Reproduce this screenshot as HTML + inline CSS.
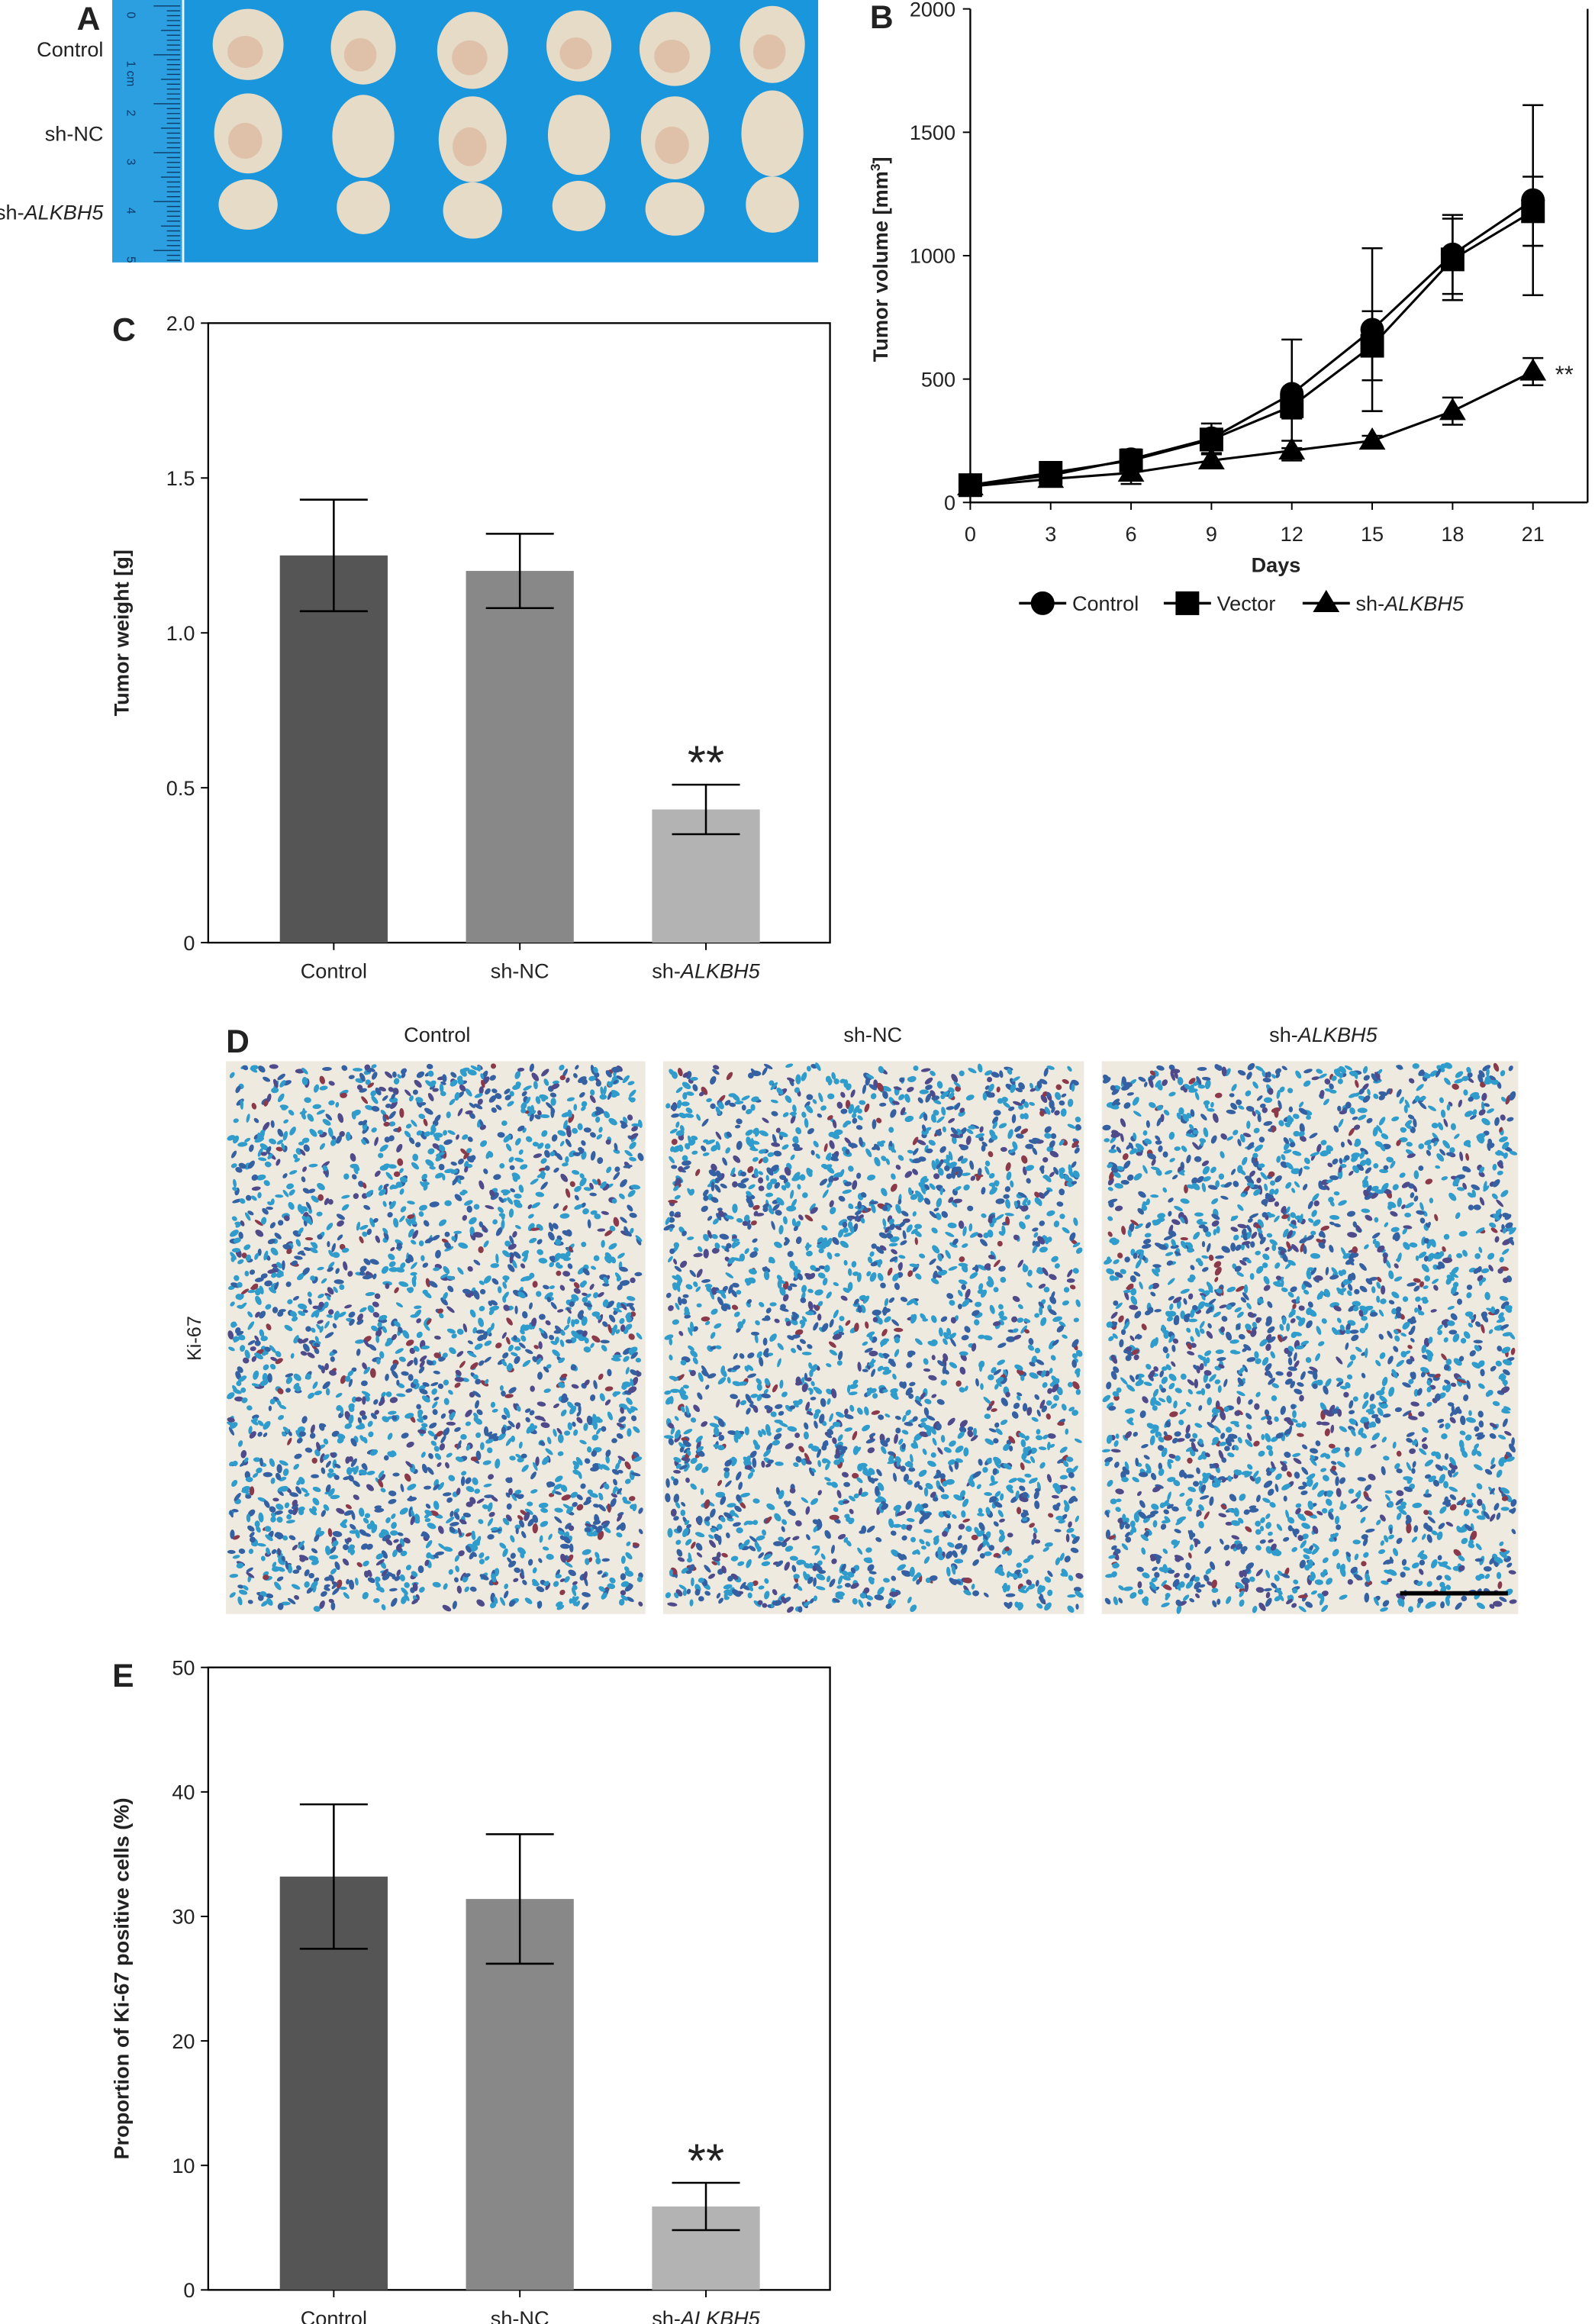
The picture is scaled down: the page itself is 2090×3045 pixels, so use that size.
<!DOCTYPE html>
<html><head><meta charset="utf-8">
<style>
html,body{margin:0;padding:0;background:#fff;}
svg{display:block;}
text{font-family:"Liberation Sans","DejaVu Sans",sans-serif;fill:#222;}
</style></head>
<body>
<svg id="fig" width="2090" height="3045" viewBox="0 0 1080 1568" preserveAspectRatio="none" xmlns="http://www.w3.org/2000/svg">
<g id="panelA">
  <text x="52" y="20" font-size="22" font-weight="bold">A</text>
  <text x="70" y="38" font-size="14" text-anchor="end">Control</text>
  <text x="70" y="95" font-size="14" text-anchor="end">sh-NC</text>
  <text x="70" y="148" font-size="14" text-anchor="end">sh-<tspan font-style="italic">ALKBH5</tspan></text>
  <rect x="76" y="0" width="478" height="177" fill="#1a96dc"/>
  <rect x="76" y="0" width="48" height="177" fill="#2b9fe0"/>
  <line x1="124" y1="0" x2="124" y2="177" stroke="#eaf6ff" stroke-width="1.5"/>
  <g id="ruler-ticks"></g>
  <g id="tumors"></g>
</g>

<g id="panelB"></g>
<g id="panelC"></g>

<g id="panelD">
  <text x="153" y="710" font-size="22" font-weight="bold">D</text>
  <text x="296" y="703" font-size="14" text-anchor="middle">Control</text>
  <text x="591" y="703" font-size="14" text-anchor="middle">sh-NC</text>
  <text x="896" y="703" font-size="14" text-anchor="middle">sh-<tspan font-style="italic">ALKBH5</tspan></text>
  <text x="0" y="0" font-size="13" text-anchor="middle" transform="translate(136,903) rotate(-90)">Ki-67</text>
  <g id="tissue"></g>
  <line x1="948" y1="1075" x2="1021" y2="1075" stroke="#000" stroke-width="3"/>
</g>

<g id="panelE"></g>
</svg>
<script>
const NS="http://www.w3.org/2000/svg";
function mk(parent,tag,attrs,txt){const e=document.createElementNS(NS,tag);for(const k in attrs)e.setAttribute(k,attrs[k]);if(txt!==undefined)e.textContent=txt;parent.appendChild(e);return e;}

// ---------- Panel B data ----------
const bDays=[0,3,6,9,12,15,18,21];
const bControl=[70,110,175,260,440,700,1005,1225];
const bControlErr=[10,20,40,60,220,330,160,385];
const bVector=[70,120,170,255,390,635,985,1180];
const bVectorErr=[8,15,30,40,50,140,165,140];
const bSh=[65,95,120,170,210,250,370,530];
const bShErr=[8,15,45,25,40,20,55,55];
const bYTicks=[0,500,1000,1500,2000];
const bXTicks=[0,3,6,9,12,15,18,21];

// ---------- Panel C data ----------
const cCats=["Control","sh-NC","sh-ALKBH5"];
const cVals=[1.25,1.2,0.43];
const cErr=[0.18,0.12,0.08];
const cTicks=[0,0.5,1.0,1.5,2.0];
const cTickLabels=["0","0.5","1.0","1.5","2.0"];

// ---------- Panel E data ----------
const eCats=["Control","sh-NC","sh-ALKBH5"];
const eVals=[33.2,31.4,6.7];
const eErr=[5.8,5.2,1.9];
const eTicks=[0,10,20,30,40,50];

const barColors=["#555555","#888888","#b3b3b3"];

// ---------- Panel A photo decorations ----------
(function(){
  const g=document.getElementById('ruler-ticks');
  for(let i=0;i<=52;i++){const y=4+i*3.3;const l=(i%10==0)?18:(i%5==0?13:9);
    mk(g,'line',{x1:122-l,y1:y,x2:122,y2:y,stroke:'#0b3a66','stroke-width':0.7});}
  ['0','1 cm','2','3','4','5'].forEach((t,i)=>{const tt=mk(g,'text',{x:0,y:0,'font-size':8,fill:'#0b3a66',transform:`translate(86,${8+i*33}) rotate(90)`},t);tt.style.fill='#0b3a66';});
  const tg=document.getElementById('tumors');
  const rows=[[32,24,25],[92,23,28],[140,20,18]];
  const xs=[168,246,320,392,457,523];
  rows.forEach((r,ri)=>xs.forEach((x,ci)=>{
    const rx=r[1]-(ci%2)*2, ry=r[2]+(ci%3)-1;
    const cy=r[0]+((ci*7)%5)-2;
    const el=mk(tg,'ellipse',{cx:x,cy:cy,rx:rx,ry:ry,fill:'#e6dbc6'});
    
    
    if(ri<2&&(ci%2==0||ri==0)) mk(tg,'ellipse',{cx:x-2,cy:cy+5,rx:rx*0.5,ry:ry*0.45,fill:'#d49a80',opacity:0.4});
  }));
})();

// ---------- Panel B ----------
(function(){
  const g=document.getElementById('panelB');
  const X0=657,X1=1038,Y0=339,Y1=6;
  const xs=d=>X0+(d/21)*(X1-X0), ys=v=>Y0-(v/2000)*(Y0-Y1);
  mk(g,'text',{x:589,y:19,'font-size':22,'font-weight':'bold',},'B');
  mk(g,'line',{x1:X0,y1:Y1,x2:X0,y2:Y0,stroke:'#000','stroke-width':1.2});
  mk(g,'line',{x1:X0,y1:Y0,x2:1075,y2:Y0,stroke:'#000','stroke-width':1.2});
  mk(g,'line',{x1:1075,y1:Y1,x2:1075,y2:Y0,stroke:'#000','stroke-width':1.2});
  bYTicks.forEach(t=>{mk(g,'line',{x1:X0-5,y1:ys(t),x2:X0,y2:ys(t),stroke:'#000'});
    const e=mk(g,'text',{x:X0-10,y:ys(t)+5,'font-size':14,'text-anchor':'end'},String(t));
    });
  bXTicks.forEach(t=>{mk(g,'line',{x1:xs(t),y1:Y0,x2:xs(t),y2:Y0+5,stroke:'#000'});
    const e=mk(g,'text',{x:xs(t),y:Y0+26,'font-size':14,'text-anchor':'middle'},String(t));
    });
  mk(g,'text',{x:864,y:386,'font-size':14,'font-weight':'bold','text-anchor':'middle',},'Days');
  const yt=mk(g,'text',{x:0,y:0,'font-size':14,'font-weight':'bold','text-anchor':'middle',transform:'translate(601,175) rotate(-90)',},'Tumor volume [mm');
  mk(yt,'tspan',{'baseline-shift':'super','font-size':9},'3');
  yt.appendChild(document.createTextNode(']'));
  function series(vals,errs,marker,name){
    const sg=mk(g,'g',{});
    
    mk(sg,'polyline',{points:vals.map((v,i)=>xs(bDays[i])+','+ys(v)).join(' '),fill:'none',stroke:'#000','stroke-width':1.6});
    vals.forEach((v,i)=>{const x=xs(bDays[i]);
      mk(sg,'line',{x1:x,y1:ys(v-errs[i]),x2:x,y2:ys(v+errs[i]),stroke:'#000','stroke-width':1.3});
      [v-errs[i],v+errs[i]].forEach(w=>mk(sg,'line',{x1:x-7,y1:ys(w),x2:x+7,y2:ys(w),stroke:'#000','stroke-width':1.3}));
      drawMarker(sg,marker,x,ys(v));});
  }
  function drawMarker(p,m,x,y){
    if(m=='c')mk(p,'circle',{cx:x,cy:y,r:8,fill:'#000'});
    else if(m=='s')mk(p,'rect',{x:x-8,y:y-8,width:16,height:16,fill:'#000'});
    else mk(p,'polygon',{points:`${x},${y-9} ${x-9},${y+6} ${x+9},${y+6}`,fill:'#000'});
  }
  series(bControl,bControlErr,'c','series-control');
  series(bVector,bVectorErr,'s','series-vector');
  series(bSh,bShErr,'t','series-sh-alkbh5');
  mk(g,'text',{x:1053,y:258,'font-size':16,},'**');
  const lg=mk(g,'g',{});
  [[690,'c','Control'],[788,'s','Vector'],[882,'t','sh-']].forEach((it,i)=>{
    const eg=mk(lg,'g',{});
    
    mk(eg,'line',{x1:it[0],y1:407,x2:it[0]+32,y2:407,stroke:'#000','stroke-width':1.8});
    drawMarker(eg,it[1],it[0]+16,407);
    const t=mk(eg,'text',{x:it[0]+36,y:412,'font-size':14},it[2]);
    if(i==2)mk(t,'tspan',{'font-style':'italic'},'ALKBH5');
  });
})();

// ---------- Bar charts ----------
function barChart(gid,label,labelY,X0,X1,Y0,Y1,ymax,ticks,tickLabels,cats,vals,errs,title,titleY){
  const g=document.getElementById(gid);
  const ys=v=>Y0-(v/ymax)*(Y0-Y1);
  mk(g,'text',{x:76,y:labelY,'font-size':22,'font-weight':'bold',},label);
  mk(g,'rect',{x:X0,y:Y1,width:X1-X0,height:Y0-Y1,fill:'none',stroke:'#000','stroke-width':1.2,});
  ticks.forEach((t,i)=>{mk(g,'line',{x1:X0-5,y1:ys(t),x2:X0,y2:ys(t),stroke:'#000'});
    const e=mk(g,'text',{x:X0-9,y:ys(t)+5,'font-size':14,'text-anchor':'end'},tickLabels[i]);
    });
  const bw=73;
  cats.forEach((c,i)=>{
    const cx=X0+85+i*126;
    const b=mk(g,'rect',{x:cx-bw/2,y:ys(vals[i]),width:bw,height:Y0-ys(vals[i]),fill:barColors[i]});
    
    const lo=ys(vals[i]-errs[i]),hi=ys(vals[i]+errs[i]);
    mk(g,'line',{x1:cx,y1:lo,x2:cx,y2:hi,stroke:'#000','stroke-width':1.3});
    mk(g,'line',{x1:cx-23,y1:lo,x2:cx+23,y2:lo,stroke:'#000','stroke-width':1.3});
    mk(g,'line',{x1:cx-23,y1:hi,x2:cx+23,y2:hi,stroke:'#000','stroke-width':1.3});
    mk(g,'line',{x1:cx,y1:Y0,x2:cx,y2:Y0+5,stroke:'#000'});
    const t=mk(g,'text',{x:cx,y:Y0+24,'font-size':14,'text-anchor':'middle'},c.indexOf('ALKBH5')>=0?'sh-':c);
    if(c.indexOf('ALKBH5')>=0)mk(t,'tspan',{'font-style':'italic'},'ALKBH5');
    
    if(i==2){const s=mk(g,'text',{x:cx,y:hi-4,'font-size':32,'text-anchor':'middle'},'**');
      }
  });
  mk(g,'text',{x:0,y:0,'font-size':14,'font-weight':'bold','text-anchor':'middle',transform:`translate(87,${titleY}) rotate(-90)`,},title);
}
barChart('panelC','C',230,141,562,636,218,2,cTicks,cTickLabels,cCats,cVals,cErr,'Tumor weight [g]',427);
barChart('panelE','E',1138,141,562,1545,1125,50,eTicks,eTicks.map(String),eCats,eVals,eErr,'Proportion of Ki-67 positive cells (%)',1335);

// ---------- Tissue images (decorative texture) ----------
(function(){
  const g=document.getElementById('tissue');
  let s=12345;const rnd=()=>{s=(s*1103515245+12345)%2147483648;return s/2147483648;};
  [[153,437],[449,734],[746,1028]].forEach((p,pi)=>{
    const pg=mk(g,'g',{});
    
    mk(pg,'rect',{x:p[0],y:716,width:p[1]-p[0],height:373,fill:'#eeeae0'});
    const n=2300;
    for(let i=0;i<n;i++){
      const x=p[0]+3+rnd()*(p[1]-p[0]-6), y=719+rnd()*367;
      const r=rnd();
      const col=r<0.5?'#2f9ccc':(r<0.82?'#3561a2':(r<0.95?'#4f4a8a':'#8a3a4a'));
      mk(pg,'ellipse',{cx:x.toFixed(1),cy:y.toFixed(1),rx:(1.8+rnd()*1.6).toFixed(1),ry:(1.1+rnd()*0.9).toFixed(1),fill:col,transform:`rotate(${(rnd()*180).toFixed(0)} ${x.toFixed(1)} ${y.toFixed(1)})`});
    }
  });
})();
</script>
</body></html>
